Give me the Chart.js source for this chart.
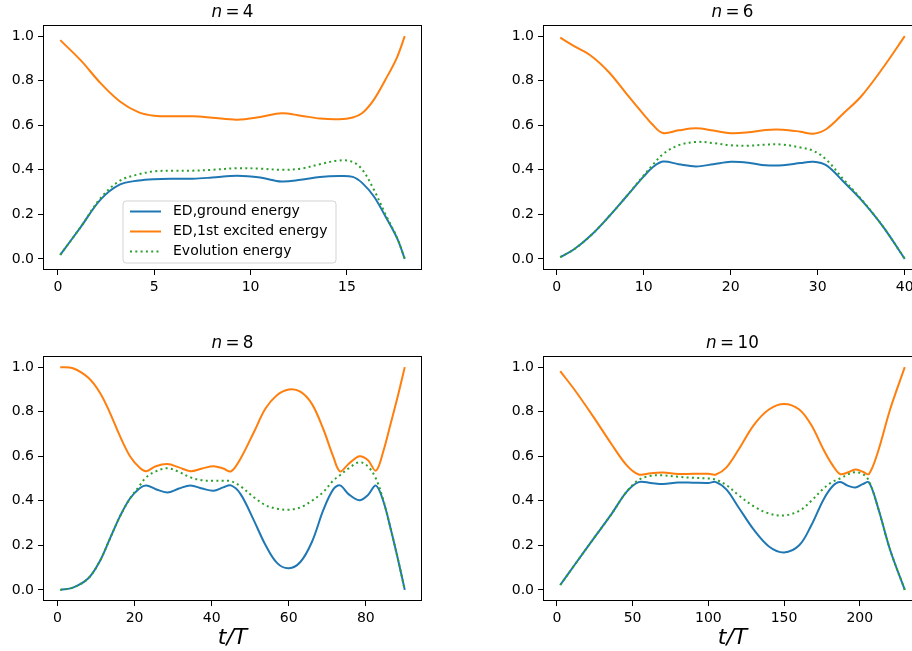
<!DOCTYPE html>
<html>
<head>
<meta charset="utf-8">
<script src="https://cdn.jsdelivr.net/npm/chart.js@4/dist/chart.umd.min.js"></script>
<style>
  html, body { margin: 0; padding: 0; background: #fff; }
  body { position: relative; width: 912px; height: 651px; overflow: hidden; }
  canvas { position: absolute; }
</style>
</head>
<body>
<canvas id="c4" style="left:0px;top:0px" width="432" height="305"></canvas>
<canvas id="c6" style="left:500px;top:0px" width="432" height="305"></canvas>
<canvas id="c8" style="left:0px;top:331px" width="432" height="320"></canvas>
<canvas id="c10" style="left:500px;top:331px" width="432" height="320"></canvas>
<script>
// values
const labels = ['ED,ground energy', 'ED,1st excited energy', 'Evolution energy'];
const yTicks = [0, 0.2, 0.4, 0.6, 0.8, 1.0];

// n = 4
const t4 = [0.12, 1.2, 2.2, 3.2, 4.2, 5, 6, 7, 8, 9.3, 10.5, 11.6, 12.6, 13.6, 14.6, 15.3, 15.8, 16.4, 17, 17.6, 18];
const ground4 = [0.018, 0.145, 0.265, 0.333, 0.352, 0.358, 0.36, 0.36, 0.365, 0.373, 0.365, 0.347, 0.355, 0.368, 0.372, 0.368, 0.34, 0.28, 0.19, 0.093, 0.0];
const excited4 = [0.982, 0.89, 0.79, 0.708, 0.658, 0.643, 0.64, 0.64, 0.634, 0.625, 0.637, 0.654, 0.643, 0.63, 0.627, 0.635, 0.655, 0.715, 0.805, 0.905, 1.0];
const evol4 = [0.018, 0.145, 0.272, 0.35, 0.38, 0.393, 0.396, 0.396, 0.40, 0.407, 0.405, 0.40, 0.405, 0.425, 0.442, 0.435, 0.40, 0.31, 0.2, 0.095, 0.0];
const xTicks4 = [0, 5, 10, 15];

// n = 6
const t6 = [0.4, 2, 4, 6, 8, 10, 11, 12.2, 14, 16, 18, 20, 22, 24, 26, 28, 29.5, 31, 33, 35, 37.5, 40];
const ground6 = [0.008, 0.043, 0.108, 0.19, 0.28, 0.37, 0.41, 0.437, 0.425, 0.415, 0.425, 0.436, 0.432, 0.42, 0.42, 0.43, 0.436, 0.42, 0.345, 0.265, 0.145, 0.0];
const excited6 = [0.993, 0.955, 0.91, 0.838, 0.742, 0.648, 0.603, 0.565, 0.577, 0.586, 0.576, 0.564, 0.568, 0.579, 0.58, 0.571, 0.562, 0.583, 0.655, 0.73, 0.858, 1.0];
const evol6 = [0.008, 0.043, 0.108, 0.19, 0.28, 0.375, 0.42, 0.47, 0.51, 0.525, 0.52, 0.51, 0.508, 0.513, 0.513, 0.5, 0.485, 0.445, 0.355, 0.268, 0.145, 0.0];
const xTicks6 = [0, 10, 20, 30, 40];

// n = 8
const t8 = [0.7, 4, 8, 11, 13.6, 16.2, 18.8, 21.4, 23, 25.5, 28.5, 31.5, 34.5, 37.5, 40.5, 43, 45, 47.5, 51, 54, 57, 60, 63, 66, 69, 71.5, 73.3, 75.5, 78.3, 80.5, 82.6, 84.5, 86.5, 88.3, 90.1];
const ground8 = [0.0, 0.01, 0.052, 0.13, 0.23, 0.33, 0.41, 0.457, 0.469, 0.452, 0.437, 0.455, 0.469, 0.455, 0.445, 0.46, 0.469, 0.43, 0.31, 0.2, 0.12, 0.097, 0.125, 0.215, 0.36, 0.45, 0.469, 0.43, 0.402, 0.425, 0.468, 0.4, 0.27, 0.14, 0.0];
const excited8 = [1.0, 0.995, 0.952, 0.885, 0.795, 0.69, 0.6, 0.547, 0.533, 0.555, 0.565, 0.55, 0.533, 0.545, 0.555, 0.545, 0.532, 0.59, 0.71, 0.815, 0.875, 0.9, 0.89, 0.835, 0.72, 0.6, 0.532, 0.565, 0.6, 0.583, 0.535, 0.62, 0.75, 0.87, 1.0];
const evol8 = [0.0, 0.01, 0.052, 0.13, 0.23, 0.33, 0.41, 0.47, 0.505, 0.532, 0.546, 0.53, 0.505, 0.492, 0.49, 0.49, 0.488, 0.465, 0.415, 0.38, 0.364, 0.36, 0.37, 0.4, 0.44, 0.49, 0.515, 0.545, 0.573, 0.555, 0.5, 0.405, 0.27, 0.14, 0.0];
const xTicks8 = [0, 20, 40, 60, 80];

// n = 10
const t10 = [2.2, 12, 24, 36, 46, 54, 62, 70, 80, 90, 100, 105, 112, 120, 130, 140, 150, 160, 168, 176, 182, 187, 192, 197, 202, 206, 212, 220, 229.7];
const ground10 = [0.022, 0.115, 0.228, 0.34, 0.44, 0.484, 0.48, 0.475, 0.482, 0.481, 0.48, 0.484, 0.45, 0.37, 0.27, 0.195, 0.168, 0.2, 0.29, 0.405, 0.465, 0.484, 0.468, 0.46, 0.475, 0.483, 0.37, 0.18, 0.0];
const excited10 = [0.982, 0.895, 0.778, 0.655, 0.56, 0.518, 0.524, 0.527, 0.52, 0.521, 0.521, 0.518, 0.55, 0.63, 0.74, 0.81, 0.835, 0.81, 0.74, 0.63, 0.56, 0.52, 0.527, 0.54, 0.53, 0.52, 0.62, 0.81, 1.0];
const evol10 = [0.022, 0.115, 0.228, 0.34, 0.44, 0.494, 0.512, 0.514, 0.508, 0.503, 0.5, 0.495, 0.47, 0.425, 0.375, 0.343, 0.334, 0.355, 0.4, 0.455, 0.485, 0.5, 0.518, 0.528, 0.52, 0.49, 0.37, 0.18, 0.0];
const xTicks10 = [0, 50, 100, 150, 200];

Chart.defaults.font.family = '"DejaVu Sans", sans-serif';
Chart.defaults.font.size = 14;
Chart.defaults.color = '#000';

// full box around the axes, like matplotlib spines
const framePlugin = {
    id: 'frame',
    afterDraw(chart) {
        const a = chart.chartArea;
        const ctx = chart.ctx;
        ctx.save();
        ctx.strokeStyle = '#000';
        ctx.lineWidth = 1;
        ctx.strokeRect(Math.round(a.left) + 0.5, Math.round(a.top) + 0.5,
            Math.round(a.right - a.left) - 1, Math.round(a.bottom - a.top) - 1);
        ctx.restore();
    }
};

// "n = 4" title with italic n
const panelTitle = {
    id: 'panelTitle',
    afterDraw(chart, args, opts) {
        if (!opts.n) return;
        const a = chart.chartArea;
        const ctx = chart.ctx;
        const size = 16.8;
        const gap = size * 0.2;
        const fam = '"DejaVu Sans", sans-serif';
        ctx.save();
        ctx.fillStyle = '#000';
        ctx.textBaseline = 'alphabetic';
        ctx.textAlign = 'left';
        const parts = [
            { s: 'n', f: 'italic ' + size + 'px ' + fam },
            { s: '=', f: size + 'px ' + fam },
            { s: String(opts.n), f: size + 'px ' + fam }
        ];
        let total = 0;
        parts.forEach(p => { ctx.font = p.f; p.w = ctx.measureText(p.s).width; total += p.w; });
        total += gap * 2;
        let x = (a.left + a.right) / 2 - total / 2;
        const y = a.top - 8;
        parts.forEach(p => {
            ctx.font = p.f;
            ctx.fillText(p.s, x, y);
            x += p.w + gap;
        });
        ctx.restore();
    }
};

// legend box drawn inside the axes
const boxLegend = {
    id: 'boxLegend',
    afterDraw(chart, args, opts) {
        if (!opts.show) return;
        const a = chart.chartArea;
        const ctx = chart.ctx;
        const bx = a.left + opts.x, by = a.top + opts.y, bw = 213, bh = 62, r = 3;
        ctx.save();
        ctx.beginPath();
        ctx.moveTo(bx + r, by);
        ctx.arcTo(bx + bw, by, bx + bw, by + bh, r);
        ctx.arcTo(bx + bw, by + bh, bx, by + bh, r);
        ctx.arcTo(bx, by + bh, bx, by, r);
        ctx.arcTo(bx, by, bx + bw, by, r);
        ctx.closePath();
        ctx.fillStyle = 'rgba(255,255,255,0.8)';
        ctx.fill();
        ctx.strokeStyle = '#d3d3d3';
        ctx.lineWidth = 1;
        ctx.stroke();
        ctx.font = '14px "DejaVu Sans", sans-serif';
        ctx.textBaseline = 'middle';
        chart.data.datasets.forEach((ds, i) => {
            const y = by + 10.5 + i * 20;
            ctx.beginPath();
            ctx.strokeStyle = ds.borderColor;
            ctx.lineWidth = ds.borderWidth;
            ctx.setLineDash(ds.borderDash || []);
            ctx.moveTo(bx + 7, y);
            ctx.lineTo(bx + 38, y);
            ctx.stroke();
            ctx.setLineDash([]);
            ctx.fillStyle = '#000';
            ctx.fillText(ds.label, bx + 50, y);
        });
        ctx.restore();
    }
};

function makePanel(id, n, t, ground, excited, evol, xTicks, withLabel, withLegend) {
    const pad = (t[t.length - 1] - t[0]) * 0.05;
    const pts = arr => arr.map((v, i) => ({ x: t[i], y: v }));
    const line = { pointRadius: 0, borderWidth: 2, tension: 0.35, fill: false };
    new Chart(document.getElementById(id), {
        type: 'line',
        data: {
            datasets: [
                Object.assign({ label: labels[0], data: pts(ground), borderColor: '#1f77b4', order: 3 }, line),
                Object.assign({ label: labels[1], data: pts(excited), borderColor: '#ff7f0e', order: 2 }, line),
                Object.assign({ label: labels[2], data: pts(evol), borderColor: '#2ca02c', borderDash: [2, 3.3], order: 1 }, line)
            ]
        },
        options: {
            responsive: false,
            animation: false,
            devicePixelRatio: 1,
            layout: { padding: { top: 25, right: 10, bottom: 0, left: 0 } },
            plugins: {
                legend: { display: false },
                tooltip: { enabled: false },
                panelTitle: { n: n },
                boxLegend: { show: withLegend, x: 80, y: 176 }
            },
            scales: {
                x: {
                    type: 'linear',
                    min: t[0] - pad,
                    max: t[t.length - 1] + pad,
                    afterBuildTicks: s => { s.ticks = xTicks.map(v => ({ value: v })); },
                    afterFit: s => { s.height = withLabel ? 50 : 35; },
                    grid: { drawOnChartArea: false, tickLength: 5, color: '#000' },
                    border: { display: false },
                    ticks: { padding: 4, maxRotation: 0, autoSkip: false, callback: v => String(v) },
                    title: { display: withLabel, text: 't/T', padding: 0, font: { size: 22, style: 'italic' } }
                },
                y: {
                    min: -0.05,
                    max: 1.05,
                    afterBuildTicks: s => { s.ticks = yTicks.map(v => ({ value: v })); },
                    afterFit: s => { s.width = 43; },
                    grid: { drawOnChartArea: false, tickLength: 5, color: '#000' },
                    border: { display: false },
                    ticks: { padding: 4, callback: v => v.toFixed(1) }
                }
            }
        },
        plugins: [framePlugin, panelTitle, boxLegend]
    });
}

makePanel('c4', 4, t4, ground4, excited4, evol4, xTicks4, false, true);
makePanel('c6', 6, t6, ground6, excited6, evol6, xTicks6, false, false);
makePanel('c8', 8, t8, ground8, excited8, evol8, xTicks8, true, false);
makePanel('c10', 10, t10, ground10, excited10, evol10, xTicks10, true, false);
</script>
</body>
</html>
